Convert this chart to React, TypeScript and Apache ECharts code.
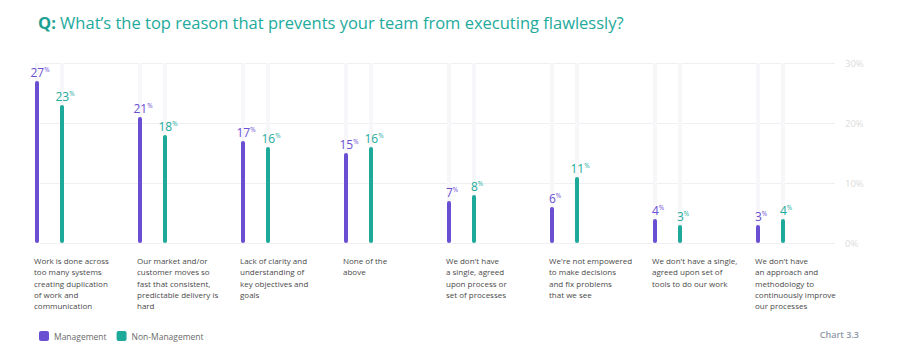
import React, { useEffect, useRef } from "react";
import * as echarts from "echarts";

const categories = [
  "Work is done across\ntoo many systems\ncreating duplication\nof work and\ncommunication",
  "Our market and/or\ncustomer moves so\nfast that consistent,\npredictable delivery is\nhard",
  "Lack of clarity and\nunderstanding of\nkey objectives and\ngoals",
  "None of the\nabove",
  "We don't have\na single, agreed\nupon process or\nset of processes",
  "We're not empowered\nto make decisions\nand fix problems\nthat we see",
  "We don't have a single,\nagreed upon set of\ntools to do our work",
  "We don't have\nan approach and\nmethodology to\ncontinuously improve\nour processes",
];
const management = [27, 21, 17, 15, 7, 6, 4, 3];
const nonManagement = [23, 18, 16, 16, 8, 11, 3, 4];
const yTicks = [0, 10, 20, 30];

const PURPLE = "#6a4fd3";
const TEAL = "#1daa9b";
const FONT = "'Open Sans', 'Noto Sans', sans-serif";
// chart canvas starts 2px left of the page edge
const SHIFT = 2;
const LEGEND_ICON = "path://M2,0 H8 Q10,0 10,2 V8 Q10,10 8,10 H2 Q0,10 0,8 V2 Q0,0 2,0 Z";

export default function App() {
  const ref = useRef<HTMLDivElement>(null);
  useEffect(() => {
    document.body.style.margin = "0";
    if (!ref.current) return;
    const chart = echarts.init(ref.current, undefined, { renderer: "svg" });
    const valueLabel = (color: string) => ({
      show: true,
      position: "top" as const,
      distance: 2,
      offset: [3, 0],
      formatter: (p: any) => `{n|${p.value}}{p|%}`,
      rich: {
        n: { fontSize: 12, color, fontFamily: FONT, lineHeight: 14 },
        p: { fontSize: 6.5, color, fontFamily: FONT, lineHeight: 14, padding: [0, 0, 6, 0] },
      },
    });
    const commonY = {
      type: "value" as const,
      min: yTicks[0],
      max: yTicks[yTicks.length - 1],
      interval: 10,
    };
    chart.setOption({
      animation: false,
      textStyle: { fontFamily: FONT },
      title: [
        {
          text: "{q|Q:} What’s the top reason that prevents your team from executing flawlessly?",
          left: 33 + SHIFT,
          top: 9,
          textStyle: {
            fontFamily: FONT,
            fontSize: 16.5,
            fontWeight: "normal",
            color: "#22aa9c",
            rich: {
              q: { fontFamily: FONT, fontSize: 16.5, fontWeight: "bold", color: "#1a9f92" },
            },
          },
        },
        {
          text: "Chart 3.3",
          right: 36,
          top: 325,
          textStyle: { fontFamily: FONT, fontSize: 9, fontWeight: 600, color: "#8e98a6" },
        },
      ],
      legend: {
        left: 34 + SHIFT,
        top: 326,
        icon: LEGEND_ICON,
        itemWidth: 10,
        itemHeight: 10,
        itemGap: 10,
        textStyle: { fontFamily: FONT, fontSize: 8.5, color: "#6b6b6b" },
        data: ["Management", "Non-Management"],
      },
      grid: [
        { left: 0, width: 824, top: 63, height: 180 },
        { left: 40 + SHIFT, width: 795, top: 63, height: 180 },
        { left: 34 + SHIFT, width: 721, top: 63, height: 180 },
      ],
      xAxis: [
        {
          type: "category",
          gridIndex: 0,
          data: categories,
          axisLine: { show: false },
          axisTick: { show: false },
          axisLabel: { show: false },
        },
        {
          type: "category",
          gridIndex: 1,
          data: categories,
          show: false,
        },
        {
          type: "category",
          gridIndex: 2,
          data: categories,
          boundaryGap: false,
          axisLine: { show: false },
          axisTick: { show: false },
          axisLabel: {
            align: "left",
            margin: 12,
            fontFamily: FONT,
            fontSize: 8,
            lineHeight: 11.2,
            color: "#4a4a4a",
            interval: 0,
          },
        },
      ],
      yAxis: [
        { ...commonY, gridIndex: 0, show: false },
        {
          ...commonY,
          gridIndex: 1,
          position: "right",
          axisLine: { show: false },
          axisTick: { show: false },
          axisLabel: {
            formatter: "{value}%",
            color: "#dcdcdc",
            fontFamily: FONT,
            fontSize: 9.5,
            margin: 10,
          },
          splitLine: { lineStyle: { color: "#f0f0f3", width: 1 } },
        },
        { ...commonY, gridIndex: 2, show: false },
      ],
      series: [
        {
          name: "Management",
          type: "bar",
          xAxisIndex: 0,
          yAxisIndex: 0,
          data: management,
          barWidth: 4,
          barGap: "525%",
          itemStyle: { color: PURPLE, borderRadius: 2 },
          showBackground: true,
          backgroundStyle: { color: "#f7f7f9", borderRadius: 0 },
          label: valueLabel(PURPLE),
        },
        {
          name: "Non-Management",
          type: "bar",
          xAxisIndex: 0,
          yAxisIndex: 0,
          data: nonManagement,
          barWidth: 4,
          barGap: "525%",
          itemStyle: { color: TEAL, borderRadius: 2 },
          showBackground: true,
          backgroundStyle: { color: "#f7f7f9", borderRadius: 0 },
          label: valueLabel(TEAL),
        },
      ],
    });
    return () => chart.dispose();
  }, []);
  return <div ref={ref} style={{ width: 900 + SHIFT, height: 357, marginLeft: -SHIFT }} />;
}
